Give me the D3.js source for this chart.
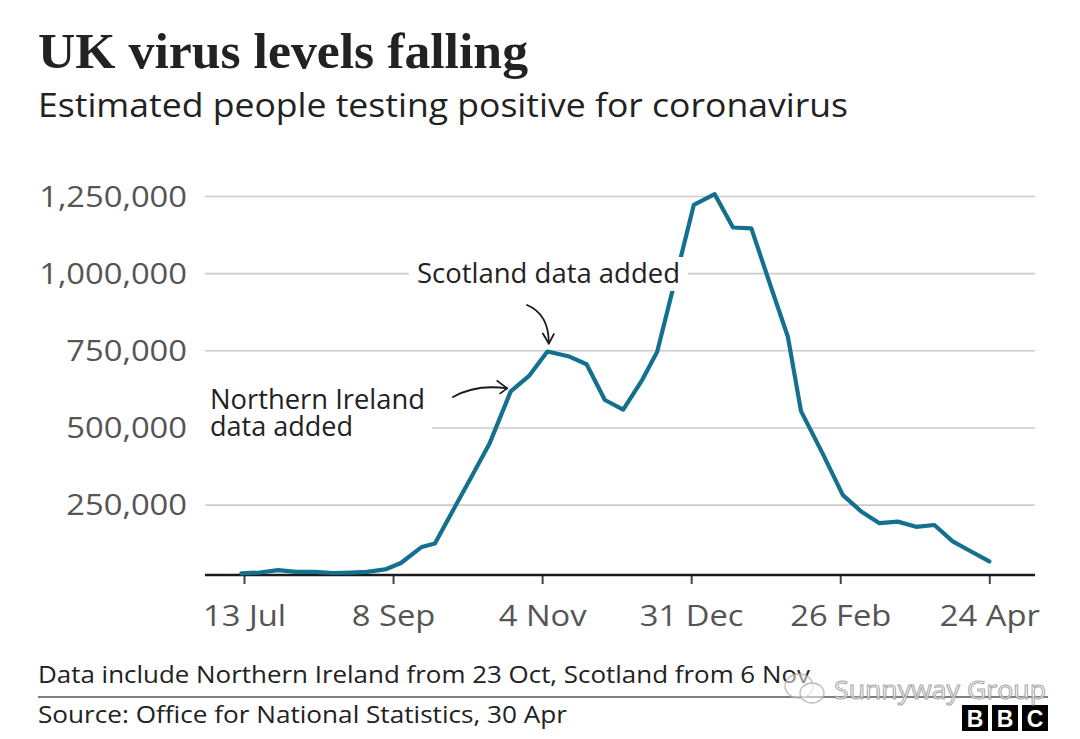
<!DOCTYPE html>
<html>
<head>
<meta charset="utf-8">
<script src="https://cdn.jsdelivr.net/npm/d3@7"></script>
<style>
  html, body { margin: 0; padding: 0; background: #fff; }
  svg { display: block; }
</style>
</head>
<body>
<svg id="chart" width="1080" height="739"></svg>
<script>
// ---------- DATA ----------
const dates = [
  "2020-07-12","2020-07-19","2020-07-26","2020-08-02","2020-08-09","2020-08-16",
  "2020-08-23","2020-08-29","2020-09-05","2020-09-11","2020-09-19","2020-09-24",
  "2020-10-01","2020-10-08","2020-10-15","2020-10-23","2020-10-30","2020-11-06",
  "2020-11-14","2020-11-21","2020-11-28","2020-12-05","2020-12-12","2020-12-18",
  "2020-12-25","2021-01-01","2021-01-09","2021-01-16","2021-01-23","2021-01-30",
  "2021-02-06","2021-02-11","2021-02-19","2021-02-27","2021-03-06","2021-03-13",
  "2021-03-20","2021-03-27","2021-04-03","2021-04-10","2021-04-16","2021-04-24"
];
const positives = [
  27000, 30000, 38000, 32000, 32000, 28500,
  30000, 32000, 40000, 61000, 113000, 124000,
  233000, 340000, 450000, 617000, 667000, 746000,
  731000, 705000, 589000, 558000, 650000, 745000,
  982000, 1221000, 1256000, 1148000, 1145000, 968000,
  793000, 553000, 420000, 281000, 228000, 190000,
  195000, 178000, 184000, 131000, 103000, 66000
];
const yTickValues = [250000, 500000, 750000, 1000000, 1250000];
const xTickDates = ["2020-07-13","2020-09-08","2020-11-04","2020-12-31","2021-02-26","2021-04-24"];
const xDomain = ["2020-07-13", "2021-04-24"];
const yDomain = [22000, 1250000];

const titleText = "UK virus levels falling";
const subtitleText = "Estimated people testing positive for coronavirus";
const noteText = "Data include Northern Ireland from 23 Oct, Scotland from 6 Nov";
const sourceText = "Source: Office for National Statistics, 30 Apr";
const niLabel = ["Northern Ireland", "data added"];
const scotLabel = "Scotland data added";

// ---------- SETUP ----------
const parse = d3.timeParse("%Y-%m-%d");
const data = dates.map((d, i) => ({ date: parse(d), value: positives[i] }));

const svg = d3.select("#chart");
const sans = "'Open Sans', 'Noto Sans', sans-serif";
const ink = "#222222";
const grey = "#555555";

const plotLeft = 205, plotRight = 1035, plotBottom = 575, plotTop = 196;

const x = d3.scaleTime()
  .domain(xDomain.map(parse))
  .range([244, 989.3]);
const y = d3.scaleLinear()
  .domain(yDomain)
  .range([plotBottom, plotTop]);

function stretch(sel, w) {
  sel.attr("textLength", w).attr("lengthAdjust", "spacingAndGlyphs");
}

// ---------- TITLES ----------
svg.append("text")
  .attr("x", 38).attr("y", 68)
  .attr("font-family", "'Liberation Serif', 'DejaVu Serif', serif")
  .attr("font-weight", "bold")
  .attr("font-size", 50)
  .attr("fill", ink)
  .text(titleText)
  .call(stretch, 490);

svg.append("text")
  .attr("x", 38).attr("y", 117)
  .attr("font-family", sans)
  .attr("font-size", 33)
  .attr("fill", ink)
  .text(subtitleText)
  .call(stretch, 810);

// ---------- GRID + Y AXIS ----------
const yAxis = d3.axisLeft(y)
  .tickValues(yTickValues)
  .tickSize(-(plotRight - plotLeft))
  .tickPadding(18)
  .tickFormat(d3.format(","));

const gy = svg.append("g")
  .attr("transform", `translate(${plotLeft},0)`)
  .call(yAxis);
gy.select(".domain").remove();
gy.selectAll(".tick line")
  .attr("stroke", "#cccccc")
  .attr("stroke-width", 1.6);
gy.selectAll(".tick text")
  .attr("font-family", sans)
  .attr("font-size", 30)
  .attr("fill", grey)
  .attr("dy", "0.34em");
gy.selectAll(".tick text").each(function () {
  const w = this.getComputedTextLength();
  d3.select(this).call(stretch, w * 1.09);
});

// ---------- X AXIS ----------
const xAxis = d3.axisBottom(x)
  .tickValues(xTickDates.map(parse))
  .tickSize(9)
  .tickPadding(21)
  .tickFormat(d3.timeFormat("%-d %b"));

const gx = svg.append("g")
  .attr("transform", `translate(0,${plotBottom})`)
  .call(xAxis);
gx.select(".domain").remove();
gx.selectAll(".tick line").attr("stroke", "#444").attr("stroke-width", 2);
gx.selectAll(".tick text")
  .attr("font-family", sans)
  .attr("font-size", 30)
  .attr("fill", grey);
gx.selectAll(".tick text").each(function () {
  const w = this.getComputedTextLength();
  d3.select(this).call(stretch, w * 1.09);
});
gx.append("line")
  .attr("x1", plotLeft).attr("x2", plotRight)
  .attr("y1", 0).attr("y2", 0)
  .attr("stroke", "#1a1a1a").attr("stroke-width", 2.6);

// ---------- LINE ----------
const line = d3.line()
  .x(d => x(d.date))
  .y(d => y(d.value));

svg.append("path")
  .datum(data)
  .attr("d", line)
  .attr("fill", "none")
  .attr("stroke", "#14708f")
  .attr("stroke-width", 4.2)
  .attr("stroke-linejoin", "round")
  .attr("stroke-linecap", "round");

// ---------- ANNOTATIONS ----------
// Scotland label (white background masks grid and line)
svg.append("rect")
  .attr("x", 409).attr("y", 257).attr("width", 279).attr("height", 34)
  .attr("fill", "#fff");
svg.append("text")
  .attr("x", 417).attr("y", 283)
  .attr("font-family", sans)
  .attr("font-size", 27)
  .attr("fill", ink)
  .text(scotLabel)
  .call(stretch, 263);

// Northern Ireland label
svg.append("rect")
  .attr("x", plotLeft).attr("y", 386).attr("width", 432 - plotLeft).attr("height", 56)
  .attr("fill", "#fff");
const niText = svg.append("text")
  .attr("x", 210).attr("y", 409)
  .attr("font-family", sans)
  .attr("font-size", 27)
  .attr("fill", ink);
niText.append("tspan").attr("x", 210).attr("y", 409).text(niLabel[0]).call(stretch, 215);
niText.append("tspan").attr("x", 210).attr("y", 436).text(niLabel[1]).call(stretch, 143);

// arrows
const arrowStyle = g => g.attr("fill", "none").attr("stroke", "#1a1a1a")
  .attr("stroke-width", 1.8).attr("stroke-linecap", "round").attr("stroke-linejoin", "round");

const niTip = { x: x(parse("2020-10-23")) - 3.5, y: y(617000) - 3 };
svg.append("path")
  .attr("d", `M453,397 Q476,384 ${niTip.x},${niTip.y}`)
  .call(arrowStyle);
svg.append("path")
  .attr("d", `M${niTip.x - 10},${niTip.y - 7.5} L${niTip.x},${niTip.y} L${niTip.x - 7},${niTip.y + 5}`)
  .call(arrowStyle);

const scTip = { x: x(parse("2020-11-06")) + 1.5, y: y(746000) - 8 };
svg.append("path")
  .attr("d", `M527,305 Q${scTip.x},314 ${scTip.x},${scTip.y}`)
  .call(arrowStyle);
svg.append("path")
  .attr("d", `M${scTip.x - 6},${scTip.y - 10} L${scTip.x},${scTip.y} L${scTip.x + 5},${scTip.y - 9.5}`)
  .call(arrowStyle);

// ---------- FOOTER ----------
svg.append("text")
  .attr("x", 38).attr("y", 683)
  .attr("font-family", sans)
  .attr("font-size", 23)
  .attr("fill", ink)
  .text(noteText)
  .call(stretch, 772);

svg.append("line")
  .attr("x1", 38).attr("x2", 1048)
  .attr("y1", 697).attr("y2", 697)
  .attr("stroke", "#555").attr("stroke-width", 1.6);

svg.append("text")
  .attr("x", 38).attr("y", 723)
  .attr("font-family", sans)
  .attr("font-size", 23)
  .attr("fill", ink)
  .text(sourceText)
  .call(stretch, 529);

// BBC blocks
const bbc = svg.append("g");
["B", "B", "C"].forEach((ch, i) => {
  const bx = 962 + i * 30;
  bbc.append("rect").attr("x", bx).attr("y", 705).attr("width", 26).attr("height", 26).attr("fill", "#000");
  bbc.append("text").attr("x", bx + 13).attr("y", 727)
    .attr("text-anchor", "middle")
    .attr("font-family", "'Liberation Sans', Arial, sans-serif")
    .attr("font-weight", "bold").attr("font-size", 23)
    .attr("fill", "#fff").text(ch);
});

// watermark
const wm = svg.append("g").attr("opacity", 0.85);
wm.append("ellipse").attr("cx", 799).attr("cy", 686).attr("rx", 14).attr("ry", 12)
  .attr("fill", "rgba(255,255,255,0.6)").attr("stroke", "#b0b0b0").attr("stroke-width", 1.3);
wm.append("ellipse").attr("cx", 812).attr("cy", 693).attr("rx", 12).attr("ry", 10)
  .attr("fill", "rgba(255,255,255,0.6)").attr("stroke", "#b0b0b0").attr("stroke-width", 1.3);
wm.append("text")
  .attr("x", 834).attr("y", 699)
  .attr("font-family", sans)
  .attr("font-size", 25)
  .attr("fill", "#ffffff")
  .attr("stroke", "#9a9a9a").attr("stroke-width", 1)
  .text("Sunnyway Group")
  .call(stretch, 212);
</script>
</body>
</html>
